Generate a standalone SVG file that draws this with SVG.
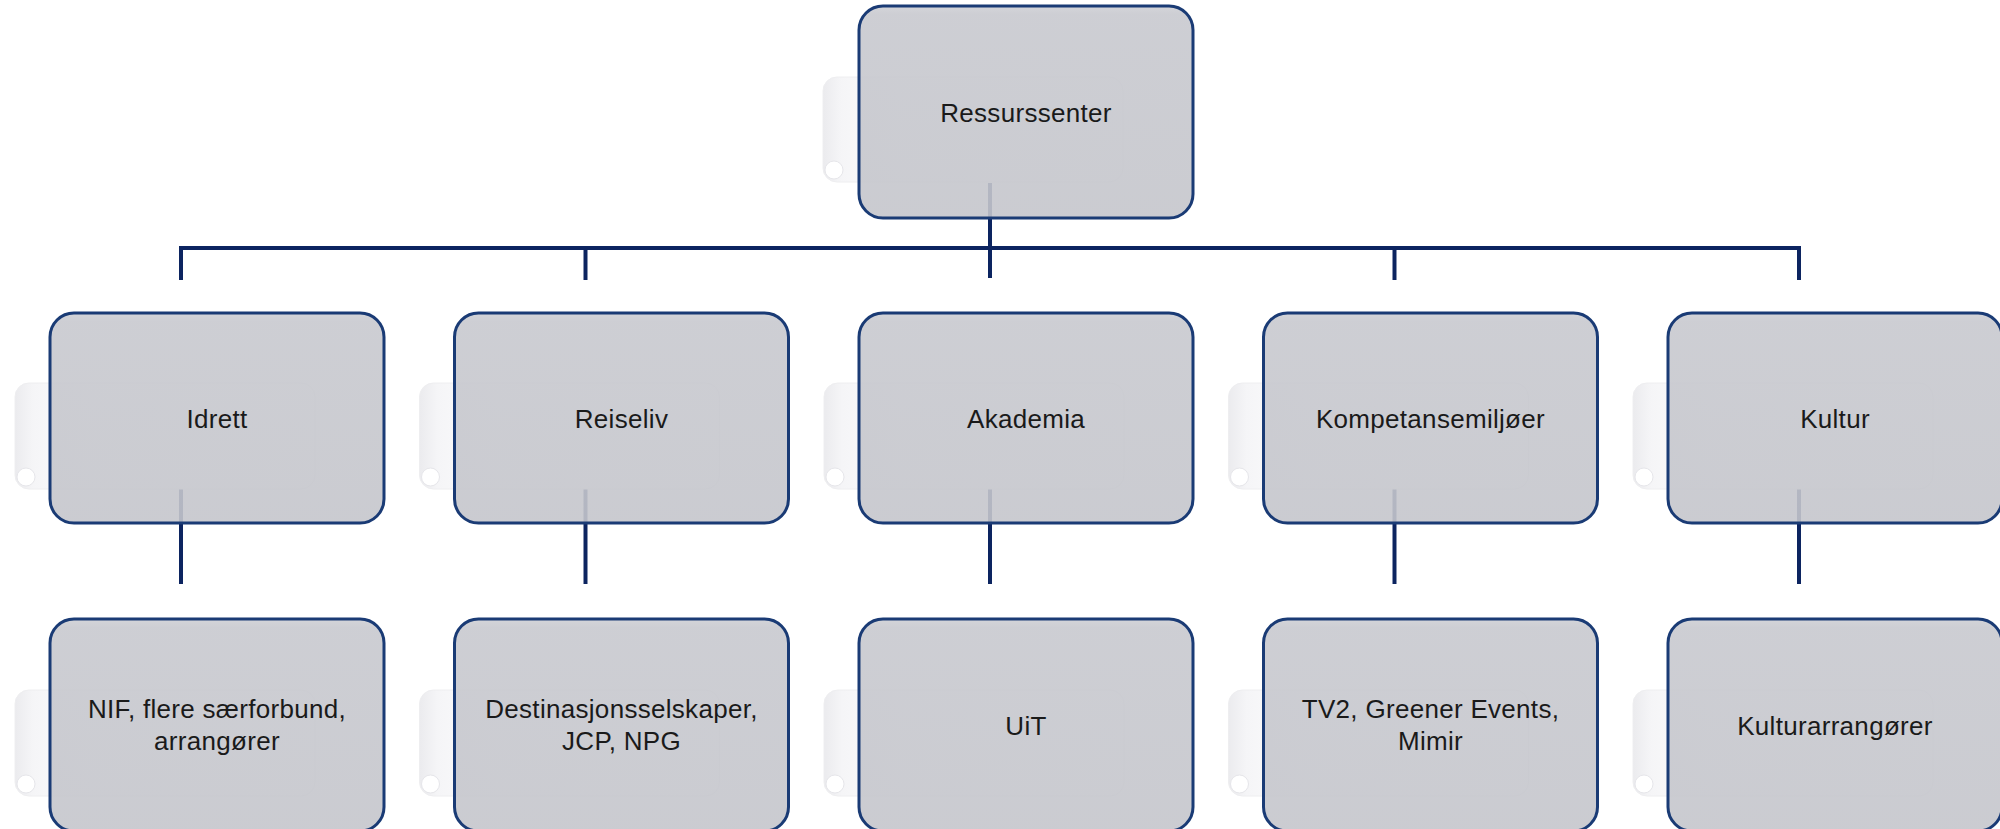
<svg xmlns="http://www.w3.org/2000/svg" width="2000" height="829" viewBox="0 0 2000 829">
  <defs>
    <linearGradient id="ghostGrad" x1="0" y1="0" x2="1" y2="0">
      <stop offset="0" stop-color="#ebebee"/>
      <stop offset="0.06" stop-color="#f5f5f7"/>
      <stop offset="0.25" stop-color="#fcfcfd"/>
      <stop offset="1" stop-color="#ffffff"/>
    </linearGradient>
    <linearGradient id="boxGrad" x1="0" y1="0" x2="0" y2="1">
      <stop offset="0" stop-color="#cfd0d5"/>
      <stop offset="0.04" stop-color="#c8c9cf"/>
      <stop offset="1" stop-color="#c5c6cc"/>
    </linearGradient>
  </defs>
  <style>
    .ghost { fill: url(#ghostGrad); stroke: #eeeef0; stroke-width: 1; }
    .curl { fill: #ffffff; stroke: #e6e6ea; stroke-width: 1; }
    .box { fill: url(#boxGrad); fill-opacity: 0.9; stroke: #1a3b75; stroke-width: 3; }
    .lbl { font-family: "Liberation Sans", Arial, sans-serif; font-size: 26px; fill: #1a1a1a; text-anchor: middle; letter-spacing: 0.3px; }
    .conn { fill: none; stroke: #0c2460; stroke-width: 4; stroke-linejoin: miter; }
  </style>
  <rect width="2000" height="829" fill="#ffffff"/>

  <g id="connectors">
    <path class="conn" d="M990,183 V278"/>
    <path class="conn" d="M181,280 V248 H1799 V280"/>
    <path class="conn" d="M585.5,248 V280"/>
    <path class="conn" d="M1394.5,248 V280"/>
    <path class="conn" d="M181,489 V584"/>
    <path class="conn" d="M585.5,489 V584"/>
    <path class="conn" d="M990,489 V584"/>
    <path class="conn" d="M1394.5,489 V584"/>
    <path class="conn" d="M1799,489 V584"/>
  </g>

  <g id="node-ressurssenter">
    <rect class="ghost" x="823" y="77" width="300" height="105" rx="14"/>
    <circle class="curl" cx="834" cy="170" r="9"/>
    <rect class="box" x="859" y="6" width="334" height="212" rx="24"/>
    <text class="lbl" x="1026" y="122">Ressurssenter</text>
  </g>

  <g id="node-idrett">
    <rect class="ghost" x="15" y="383" width="300" height="106" rx="14"/>
    <circle class="curl" cx="26" cy="477" r="9"/>
    <rect class="box" x="50" y="313" width="334" height="210" rx="24"/>
    <text class="lbl" x="217" y="428">Idrett</text>
  </g>

  <g id="node-reiseliv">
    <rect class="ghost" x="419.5" y="383" width="300" height="106" rx="14"/>
    <circle class="curl" cx="430.5" cy="477" r="9"/>
    <rect class="box" x="454.5" y="313" width="334" height="210" rx="24"/>
    <text class="lbl" x="621.5" y="428">Reiseliv</text>
  </g>

  <g id="node-akademia">
    <rect class="ghost" x="824" y="383" width="300" height="106" rx="14"/>
    <circle class="curl" cx="835" cy="477" r="9"/>
    <rect class="box" x="859" y="313" width="334" height="210" rx="24"/>
    <text class="lbl" x="1026" y="428">Akademia</text>
  </g>

  <g id="node-kompetansemiljoer">
    <rect class="ghost" x="1228.5" y="383" width="300" height="106" rx="14"/>
    <circle class="curl" cx="1239.5" cy="477" r="9"/>
    <rect class="box" x="1263.5" y="313" width="334" height="210" rx="24"/>
    <text class="lbl" x="1430.5" y="428">Kompetansemiljøer</text>
  </g>

  <g id="node-kultur">
    <rect class="ghost" x="1633" y="383" width="300" height="106" rx="14"/>
    <circle class="curl" cx="1644" cy="477" r="9"/>
    <rect class="box" x="1668" y="313" width="334" height="210" rx="24"/>
    <text class="lbl" x="1835" y="428">Kultur</text>
  </g>

  <g id="node-nif">
    <rect class="ghost" x="15" y="690" width="300" height="106" rx="14"/>
    <circle class="curl" cx="26" cy="784" r="9"/>
    <rect class="box" x="50" y="619" width="334" height="212" rx="24"/>
    <text class="lbl" x="217" y="718">NIF, flere særforbund,</text>
    <text class="lbl" x="217" y="750">arrangører</text>
  </g>

  <g id="node-destinasjon">
    <rect class="ghost" x="419.5" y="690" width="300" height="106" rx="14"/>
    <circle class="curl" cx="430.5" cy="784" r="9"/>
    <rect class="box" x="454.5" y="619" width="334" height="212" rx="24"/>
    <text class="lbl" x="621.5" y="718">Destinasjonsselskaper,</text>
    <text class="lbl" x="621.5" y="750">JCP, NPG</text>
  </g>

  <g id="node-uit">
    <rect class="ghost" x="824" y="690" width="300" height="106" rx="14"/>
    <circle class="curl" cx="835" cy="784" r="9"/>
    <rect class="box" x="859" y="619" width="334" height="212" rx="24"/>
    <text class="lbl" x="1026" y="735">UiT</text>
  </g>

  <g id="node-tv2">
    <rect class="ghost" x="1228.5" y="690" width="300" height="106" rx="14"/>
    <circle class="curl" cx="1239.5" cy="784" r="9"/>
    <rect class="box" x="1263.5" y="619" width="334" height="212" rx="24"/>
    <text class="lbl" x="1430.5" y="718">TV2, Greener Events,</text>
    <text class="lbl" x="1430.5" y="750">Mimir</text>
  </g>

  <g id="node-kulturarrangorer">
    <rect class="ghost" x="1633" y="690" width="300" height="106" rx="14"/>
    <circle class="curl" cx="1644" cy="784" r="9"/>
    <rect class="box" x="1668" y="619" width="334" height="212" rx="24"/>
    <text class="lbl" x="1835" y="735">Kulturarrangører</text>
  </g>
</svg>
